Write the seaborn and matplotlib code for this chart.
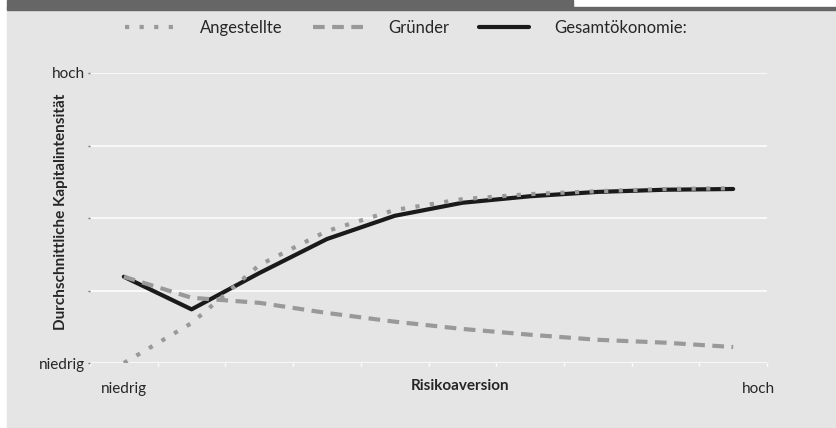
import pandas as pd
import seaborn as sns
from matplotlib import pyplot as plt
from matplotlib.patches import Rectangle
from matplotlib.lines import Line2D

# Werte (0 = niedrig, 4 = hoch)
risk = [0.5, 1.5, 2.5, 3.5, 4.5, 5.5, 6.5, 7.5, 8.5, 9.5]
angestellte = [0.00, 0.55, 1.35, 1.82, 2.11, 2.26, 2.33, 2.37, 2.40, 2.41]
gruender = [1.19, 0.90, 0.83, 0.69, 0.57, 0.47, 0.39, 0.32, 0.28, 0.22]
gesamt = [1.19, 0.74, 1.24, 1.71, 2.03, 2.21, 2.30, 2.36, 2.39, 2.40]

labels = ['Angestellte', 'Gründer', 'Gesamtökonomie:']
y_ticklabels = ['niedrig', '', '', '', 'hoch']

bg = '#e5e5e5'
line_grey = '#999999'

sns.set_style('white')
plt.rcParams['font.family'] = ['Lato', 'DejaVu Sans']

fig = plt.figure(figsize=(8.37, 4.28), dpi=100)
fig.patch.set_facecolor('white')

# Hintergrund und Kopfbalken
fig.patches.append(Rectangle((7/837, 0), 1, 1 - 10/428, transform=fig.transFigure,
                             color=bg, zorder=-10))
fig.patches.append(Rectangle((7/837, 1 - 8/428), 566/837, 8/428, transform=fig.transFigure,
                             color='#666666', zorder=-9))
fig.patches.append(Rectangle((7/837, 1 - 10/428), 1, 2.5/428, transform=fig.transFigure,
                             color='#666666', zorder=-9))

ax = fig.add_axes([90/837, 1 - 363/428, 677/837, 290/428])
ax.set_facecolor(bg)

sns.lineplot(x=risk, y=gesamt, ax=ax, color='#1a1a1a', linewidth=3, zorder=3)
sns.lineplot(x=risk, y=gruender, ax=ax, color=line_grey, linewidth=3,
             linestyle=(0, (2.8, 1.8)), zorder=4)
sns.lineplot(x=risk, y=angestellte, ax=ax, color=line_grey, linewidth=3,
             linestyle=(0, (1, 2.5)), zorder=5)

ax.set_xlim(0, 10)
ax.set_ylim(0, 4)
ax.set_yticks(range(5))
ax.set_yticklabels(y_ticklabels, fontsize=11)
ax.set_xticks(range(11))
ax.set_xticklabels([])
ax.tick_params(axis='y', length=1.5, width=1, color='#777777', pad=2, left=True)
ax.tick_params(axis='x', length=2.5, width=1, color='white', bottom=True)
ax.grid(axis='y', color='white', linewidth=1.1)
ax.grid(axis='x', visible=False)
ax.set_axisbelow(True)
for s in ax.spines.values():
    s.set_visible(False)

ax.set_ylabel('Durchschnittliche Kapitalintensität', fontsize=11, fontweight='bold')
ax.yaxis.set_label_coords(-0.033, 0.52)
ax.set_xlabel('')

fig.text(124/837, 1 - 389/428, 'niedrig', ha='center', va='center', fontsize=11)
fig.text(460/837, 1 - 386/428, 'Risikoaversion', ha='center', va='center', fontsize=11,
         fontweight='bold')
fig.text(758/837, 1 - 389/428, 'hoch', ha='center', va='center', fontsize=11)

handles = [
    Line2D([], [], color=line_grey, linewidth=3, linestyle=(0, (1, 2.5))),
    Line2D([], [], color=line_grey, linewidth=3, linestyle=(0, (2.8, 1.8))),
    Line2D([], [], color='#1a1a1a', linewidth=3),
]
fig.legend(handles, labels, loc='center', bbox_to_anchor=(406/837, 1 - 28/428), ncol=3,
           frameon=False, fontsize=12, handlelength=3.0, columnspacing=1.8, handletextpad=1.5)

fig.savefig('out.png', dpi=100, facecolor=fig.get_facecolor())
